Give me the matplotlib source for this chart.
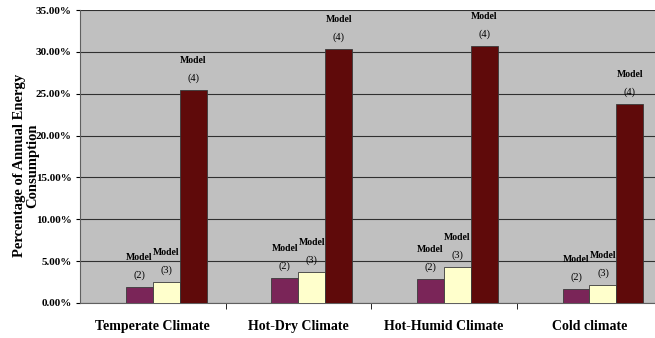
import matplotlib.pyplot as plt
import numpy as np

categories = ["Temperate Climate", "Hot-Dry Climate", "Hot-Humid Climate", "Cold climate"]
model2 = [1.9, 2.95, 2.87, 1.68]
model3 = [2.55, 3.75, 4.35, 2.15]
model4 = [25.5, 30.3, 30.7, 23.8]
yticks = [0, 5, 10, 15, 20, 25, 30, 35]

plt.rcParams['font.family'] = ['Liberation Serif', 'DejaVu Serif']

fig = plt.figure(figsize=(6.55, 3.38), dpi=100)
ax = fig.add_axes([80 / 655, 35 / 338, 1 - 80 / 655, 293 / 338])
ax.set_facecolor('#c0c0c0')

x = np.arange(len(categories))
w = 0.185
series = [(model2, '#7a2558', '2', -0.5), (model3, '#ffffcc', '3', 0.5), (model4, '#5f0a0a', '4', 1.5)]
for vals, col, num, off in series:
    bars = ax.bar(x + off * w, vals, w, color=col, edgecolor='#3a3a3a', linewidth=0.6, zorder=3)
    for b in bars:
        cx = b.get_x() + b.get_width() / 2
        h = b.get_height()
        ax.annotate(f"({num})", (cx, h), xytext=(0, 5), textcoords='offset points',
                    ha='center', va='bottom', fontsize=7.5)
        ax.annotate("Model", (cx, h), xytext=(0, 18), textcoords='offset points',
                    ha='center', va='bottom', fontsize=7, fontweight='bold')

ax.set_ylim(0, 35)
ax.set_xlim(-0.5, 3.45)
ax.set_yticks(yticks)
ax.set_yticklabels([f"{v:.2f}%" for v in yticks], fontsize=8, fontweight='bold')
ax.yaxis.grid(True, color='#303030', linewidth=0.8, zorder=0)
ax.set_axisbelow(True)

ax.set_xticks(x)
ax.set_xticklabels(categories, fontsize=10, fontweight='bold')
ax.tick_params(axis='x', length=0, pad=12)
ax.set_xticks(np.arange(0.5, 3.5, 1), minor=True)
ax.tick_params(axis='x', which='minor', length=4, direction='out')
ax.tick_params(axis='y', length=3, pad=3)

for s in ['top', 'right']:
    ax.spines[s].set_visible(False)
ax.spines['left'].set_color('#606060')
ax.spines['bottom'].set_color('#606060')

ax.set_ylabel("Percentage of Annual Energy\nConsumption", fontsize=10.5, fontweight='bold',
              linespacing=1.0)
ax.yaxis.set_label_coords(-41 / 575, 0.47)

fig.savefig('out.png', dpi=100)
